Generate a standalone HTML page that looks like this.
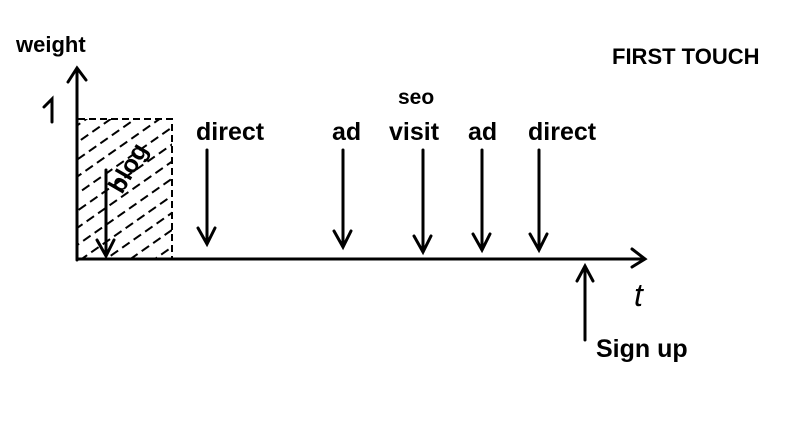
<!DOCTYPE html><html><head><style>body{margin:0;background:#fff}svg{display:block}text{font-family:"Liberation Sans",sans-serif;fill:#000}</style></head><body>
<svg width="796" height="448" viewBox="0 0 796 448" xmlns="http://www.w3.org/2000/svg">
<defs><pattern id="h" width="14" height="14" patternUnits="userSpaceOnUse" patternTransform="rotate(-35)"><line x1="0" y1="7" x2="9" y2="7" stroke="#000" stroke-width="2"/></pattern></defs>
<rect x="78" y="119" width="94" height="140" fill="url(#h)"/>
<path d="M78 119H172V259" fill="none" stroke="#000" stroke-width="2" stroke-dasharray="7,4"/>
<g stroke="#000" stroke-width="3" fill="none" stroke-linecap="round">
<path d="M77 260V68M68 82L77 68L86 80"/>
<path d="M77 259H645M632 249L645 259L632 267"/>
<path d="M106 170V256M97 240L106 256L114 240"/>
<path d="M207 150V244M198 228L207 244L215 228"/>
<path d="M343 150V247M334 231L343 247L351 231"/>
<path d="M423 150V252M414 236L423 252L431 236"/>
<path d="M482 150V250M473 234L482 250L490 234"/>
<path d="M539 150V250M530 234L539 250L547 234"/>
<path d="M585 340V266M577 281L585 266L593 281"/>
<path d="M44 107L52 99V122"/>
</g>
<text x="16" y="52" font-size="22" font-weight="bold">weight</text>
<text x="612" y="64" font-size="22" font-weight="bold">FIRST TOUCH</text>
<text x="196" y="140" font-size="25" font-weight="bold">direct</text>
<text x="332" y="140" font-size="25" font-weight="bold">ad</text>
<text x="398" y="104" font-size="21" font-weight="bold">seo</text>
<text x="389" y="140" font-size="25" font-weight="bold">visit</text>
<text x="468" y="140" font-size="25" font-weight="bold">ad</text>
<text x="528" y="140" font-size="25" font-weight="bold">direct</text>
<text x="0" y="0" font-size="25" font-weight="bold" transform="translate(122 195) rotate(-60)">blog</text>
<text x="634" y="306" font-size="32" font-style="italic">t</text>
<text x="596" y="357" font-size="25" font-weight="bold">Sign up</text>
</svg></body></html>
